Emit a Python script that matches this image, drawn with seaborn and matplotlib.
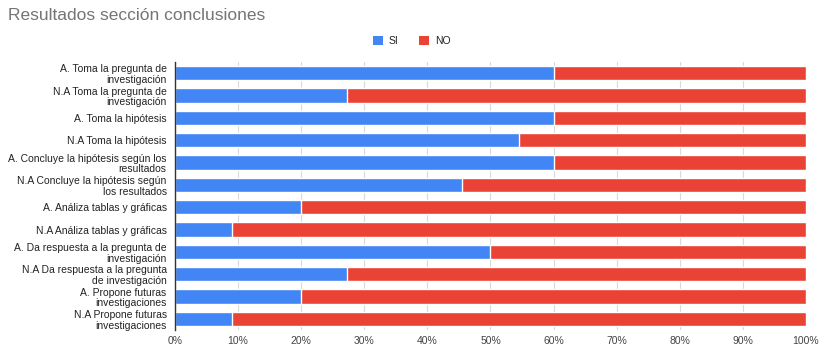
import matplotlib
matplotlib.use("Agg")
import matplotlib.pyplot as plt
import seaborn as sns
import pandas as pd
from matplotlib.patches import Patch
from matplotlib.ticker import FuncFormatter, MultipleLocator

categories = [
    "A. Toma la pregunta de\ninvestigación",
    "N.A Toma la pregunta de\ninvestigación",
    "A. Toma la hipótesis",
    "N.A Toma la hipótesis",
    "A. Concluye la hipótesis según los\nresultados",
    "N.A Concluye la hipótesis según\nlos resultados",
    "A. Análiza tablas y gráficas",
    "N.A Análiza tablas y gráficas",
    "A. Da respuesta a la pregunta de\ninvestigación",
    "N.A Da respuesta a la pregunta\nde investigación",
    "A. Propone futuras\ninvestigaciones",
    "N.A Propone futuras\ninvestigaciones",
]
si_values = [60, 27.27, 60, 54.55, 60, 45.45, 20, 9.09, 50, 27.27, 20, 9.09]
no_values = [100 - v for v in si_values]

df = pd.DataFrame({"cat": categories, "SI": si_values, "NO": no_values})
df["total"] = df["SI"] + df["NO"]

sns.set_theme(style="white")
plt.rcParams["font.family"] = ["Liberation Sans", "DejaVu Sans"]

BLUE = "#4285F4"
RED = "#EA4335"

fig = plt.figure(figsize=(8.2, 3.46), dpi=100)
ax = fig.add_axes([175 / 820, 1 - 330 / 346, 631 / 820, (330 - 62) / 346])

sns.barplot(data=df, y="cat", x="total", color=RED, orient="h", width=0.64,
            ax=ax, saturation=1, zorder=2)
sns.barplot(data=df, y="cat", x="SI", color=BLUE, orient="h", width=0.64,
            ax=ax, saturation=1, zorder=3)

ax.set_xlim(0, 100)
ax.set_ylim(len(categories) - 0.5, -0.5)
ax.xaxis.set_major_locator(MultipleLocator(10))
ax.xaxis.set_major_formatter(FuncFormatter(lambda v, p: f"{int(round(v))}%"))
ax.set_xlabel("")
ax.set_ylabel("")
ax.grid(axis="x", color="#d9d9d9", linewidth=0.8, zorder=0)
ax.set_axisbelow(True)
for s in ["top", "right", "bottom"]:
    ax.spines[s].set_visible(False)
ax.spines["left"].set_color("#333333")
ax.spines["left"].set_linewidth(1.0)
ax.spines["left"].set_zorder(5)
ax.tick_params(axis="x", labelsize=7.5, labelcolor="#444444", length=0, pad=4)
ax.tick_params(axis="y", labelsize=7.5, labelcolor="#222222", length=0, pad=6)
ax.set_yticks(range(len(categories)))
ax.set_yticklabels(categories, ha="right", multialignment="right", linespacing=1.1)

fig.text(8 / 820, 1 - 15 / 346, "Resultados sección conclusiones", fontsize=12.5,
         color="#757575", ha="left", va="center")

handles = [Patch(facecolor=BLUE, edgecolor="none", label="SI"),
           Patch(facecolor=RED, edgecolor="none", label="NO")]
fig.legend(handles=handles, loc="center", bbox_to_anchor=(412 / 820, 1 - 41 / 346),
           ncol=2, frameon=False, fontsize=7.5, handlelength=0.9, handleheight=0.9,
           handletextpad=0.6, columnspacing=2.0, labelcolor="#222222")

fig.savefig("out.png", dpi=100)
